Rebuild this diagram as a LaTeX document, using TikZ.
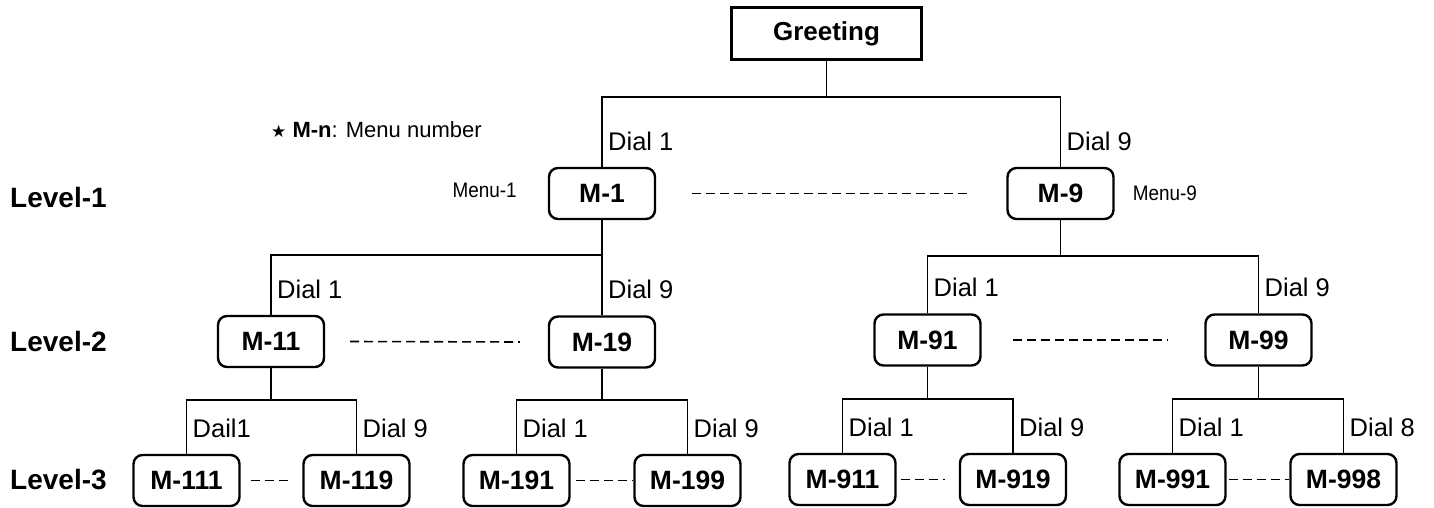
\documentclass[tikz,border=0pt]{standalone}
\usepackage{fontspec}
\setmainfont{Liberation Sans}
\newfontfamily\narrowfont{Liberation Sans}[FakeStretch=0.9]
\newfontfamily\starfont{DejaVu Sans}
\usetikzlibrary{positioning}

\begin{document}
\begin{tikzpicture}[x=1pt, y=-1pt, >=latex,
    every node/.style={font=\fontsize{25.5}{30}\selectfont},
    menu/.style={draw, line width=2.4pt, rounded corners=9pt, fill=white,
      minimum width=106pt, minimum height=51pt, font=\fontsize{26.5}{31}\selectfont\bfseries},
    dial/.style={inner sep=0pt},
    level/.style={anchor=west, inner sep=0pt, font=\fontsize{28}{33}\selectfont\bfseries},
    side/.style={inner sep=0pt, font=\narrowfont\fontsize{21}{25}\selectfont},
    link/.style={line width=1.2pt},
    dashes/.style={line width=1.6pt, dash pattern=on 9pt off 5pt}]
  \useasboundingbox (0,0) rectangle (1434,508);

  % root
  \node[draw, line width=2.4pt, minimum width=190pt, minimum height=52pt,
    font=\fontsize{26}{31}\selectfont\bfseries] (greet) at (826.5,33.5) {Greeting};
  \node[inner sep=0pt, anchor=base west, font=\fontsize{22}{26}\selectfont] (key) at (271,138)
    {{\starfont\fontsize{17}{20}\selectfont ★} \textbf{M-n}: Menu number};

  % level labels
  \node[level] (lev1) at (10,197) {Level-1};
  \node[level] (lev2) at (10,341) {Level-2};
  \node[level] (lev3) at (10,480) {Level-3};

  % level 1
  \node[menu] (m1) at (602,193.5) {M-1};
  \node[menu] (m9) at (1060.5,193.5) {M-9};
  \node[side, left=31pt of m1, yshift=3pt] (menu1) {Menu-1};
  \node[side, right=18pt of m9] (menu9) {Menu-9};

  % level 2
  \node[menu] (m11) at (271,341.5) {M-11};
  \node[menu] (m19) at (602,342) {M-19};
  \node[menu] (m91) at (927.5,340) {M-91};
  \node[menu] (m99) at (1258.5,340) {M-99};

  % level 3
  \node[menu] (m111) at (186.5,480.5) {M-111};
  \node[menu] (m119) at (356.5,480.5) {M-119};
  \node[menu] (m191) at (516.5,480.5) {M-191};
  \node[menu] (m199) at (687.5,480.5) {M-199};
  \node[menu] (m911) at (842.5,479.5) {M-911};
  \node[menu] (m919) at (1013,479.5) {M-919};
  \node[menu] (m991) at (1172.5,479.5) {M-991};
  \node[menu] (m998) at (1343.5,479.5) {M-998};

  % branches
  \coordinate (b0) at (826.5,97);
  \draw[link] (greet) -- (b0);
  \draw[link] (m1) |- (b0) -| (m9);

  \coordinate (b1) at (602,255);
  \draw[link] (m1) -- (m19);
  \draw[link] (m11) |- (b1);
  \coordinate (b9) at (1060.5,256);
  \draw[link] (m9) -- (b9);
  \draw[link] (m91) |- (b9) -| (m99);

  \coordinate (b11) at (271,400);
  \draw[link] (m11) -- (b11);
  \draw[link] (m111) |- (b11) -| (m119);
  \coordinate (b19) at (602,400);
  \draw[link] (m19) -- (b19);
  \draw[link] (m191) |- (b19) -| (m199);
  \coordinate (b91) at (927.5,399);
  \draw[link] (m91) -- (b91);
  \draw[link] (m911) |- (b91) -| (m919);
  \coordinate (b99) at (1258.5,399);
  \draw[link] (m99) -- (b99);
  \draw[link] (m991) |- (b99) -| (m998);

  % dial labels
  \node[dial, above right=16pt and 6pt of m1.north] (d1) {Dial 1};
  \node[dial, above right=16pt and 6pt of m9.north] (d9) {Dial 9};
  \node[dial, above right=16pt and 6pt of m11.north] (d11) {Dial 1};
  \node[dial, above right=16pt and 6pt of m19.north] (d19) {Dial 9};
  \node[dial, above right=16pt and 6pt of m91.north] (d91) {Dial 1};
  \node[dial, above right=16pt and 6pt of m99.north] (d99) {Dial 9};
  \node[dial, above right=16pt and 6pt of m111.north] (d111) {Dail1};
  \node[dial, above right=16pt and 6pt of m119.north] (d119) {Dial 9};
  \node[dial, above right=16pt and 6pt of m191.north] (d191) {Dial 1};
  \node[dial, above right=16pt and 6pt of m199.north] (d199) {Dial 9};
  \node[dial, above right=16pt and 6pt of m911.north] (d911) {Dial 1};
  \node[dial, above right=16pt and 6pt of m919.north] (d919) {Dial 9};
  \node[dial, above right=16pt and 6pt of m991.north] (d991) {Dial 1};
  \node[dial, above right=16pt and 6pt of m998.north] (d998) {Dial 8};

  % dashed gaps
  \draw[dashes] ([xshift=36pt]m1.east) -- ([xshift=-37pt]m9.west);
  \draw[dashes] ([xshift=25pt]m11.east) -- ([xshift=-28pt]m19.west);
  \draw[dashes] ([xshift=31pt]m91.east) -- ([xshift=-36pt]m99.west);
  \draw[dashes] ([xshift=10pt]m111.east) -- ([xshift=-10pt]m119.west);
  \draw[dashes] ([xshift=5pt]m191.east) -- (m199.west);
  \draw[dashes] ([xshift=4pt]m911.east) -- ([xshift=-14pt]m919.west);
  \draw[dashes] ([xshift=2pt]m991.east) -- (m998.west);
\end{tikzpicture}
\end{document}
